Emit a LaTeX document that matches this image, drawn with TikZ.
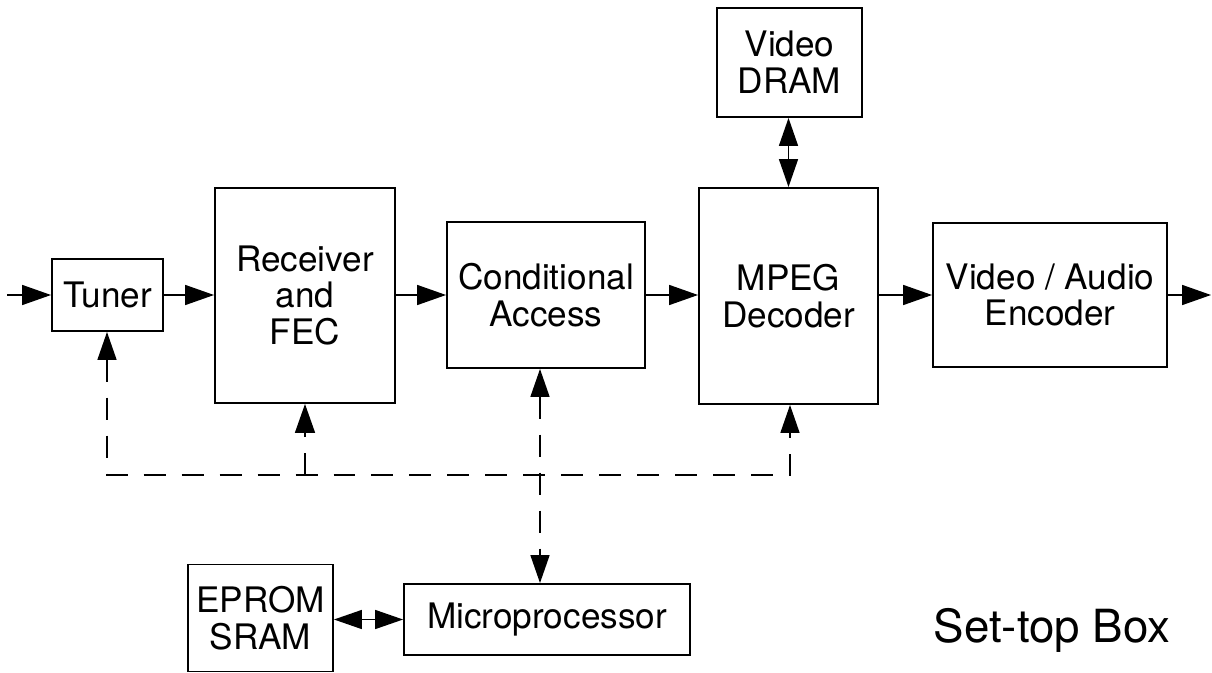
\documentclass[tikz,border=0pt]{standalone}
\usepackage{fontspec}
\setmainfont{TeX Gyre Heros}
\usetikzlibrary{arrows.meta}

\begin{document}
\begin{tikzpicture}[
          x=0.02cm, y=-0.02cm,
          every node/.style={font=\fontsize{20}{21}\selectfont},
          block/.style={rectangle, draw, line width=1.1pt, align=center, inner sep=0pt},
          flow/.style={-{Triangle[length=0.58cm, width=0.4cm]}, line width=0.9pt},
          dflow/.style={{Triangle[length=0.56cm, width=0.38cm]}-{Triangle[length=0.56cm, width=0.38cm]}, line width=0.9pt},
          bus/.style={dash pattern=on 0.44cm off 0.32cm, line width=0.9pt}
        ]
          \useasboundingbox (0,0) rectangle (1212,672);

          % Signal chain
          \node[block, minimum width=2.22cm, minimum height=1.44cm] (tuner) at (107.5,295) {Tuner};
          \node[block, minimum width=3.6cm, minimum height=4.3cm] (recv) at (305,295.5) {Receiver\\and\\FEC};
          \node[block, minimum width=3.96cm, minimum height=2.92cm] (cond) at (546,295) {Conditional\\Access};
          \node[block, minimum width=3.58cm, minimum height=4.32cm] (mpeg) at (788.5,296) {MPEG\\Decoder};
          \node[block, minimum width=4.68cm, minimum height=2.88cm] (enc) at (1050,295) {Video / Audio\\Encoder};
          \node[block, minimum width=2.9cm, minimum height=2.18cm] (dram) at (789.5,62.5) {Video\\DRAM};

          \coordinate (in) at (7,295);
          \coordinate (out) at (1211,295);
          \draw[flow] (in) -- (tuner);
          \draw[flow] (tuner) -- (recv.west |- tuner);
          \draw[flow] (recv.east |- tuner) -- (cond.west |- tuner);
          \draw[flow] (cond.east |- tuner) -- (mpeg.west |- tuner);
          \draw[flow] (mpeg.east |- tuner) -- (enc.west |- tuner);
          \draw[flow] (enc.east |- tuner) -- (out);
          \draw[dflow] (dram.south -| mpeg) -- (mpeg.north);

          % Control side
          \node[block, minimum width=2.9cm, minimum height=2.14cm] (mem) at (260.5,618) {EPROM\\SRAM};
          \node[block, minimum width=5.72cm, minimum height=1.42cm] (micro) at (547,619.5) {Microprocessor};
          \draw[dflow] (mem.east |- micro) -- (micro.west);

          \coordinate (busL) at (107,475);
          \coordinate (busR) at (790,475);
          \coordinate (cabus) at (540,475);
          \draw[bus, dflow] (tuner.south -| busL) -- (busL) -- (busR) -- (mpeg.south -| busR);
          \draw[bus, flow] (recv.south |- busL) -- (recv.south);
          \draw[bus, dflow] (cond.south -| cabus) -- (micro.north -| cabus);

          \node[font=\fontsize{26}{28}\selectfont, anchor=base] (title) at (1052,642) {Set-top Box};

        \end{tikzpicture}
\end{document}
